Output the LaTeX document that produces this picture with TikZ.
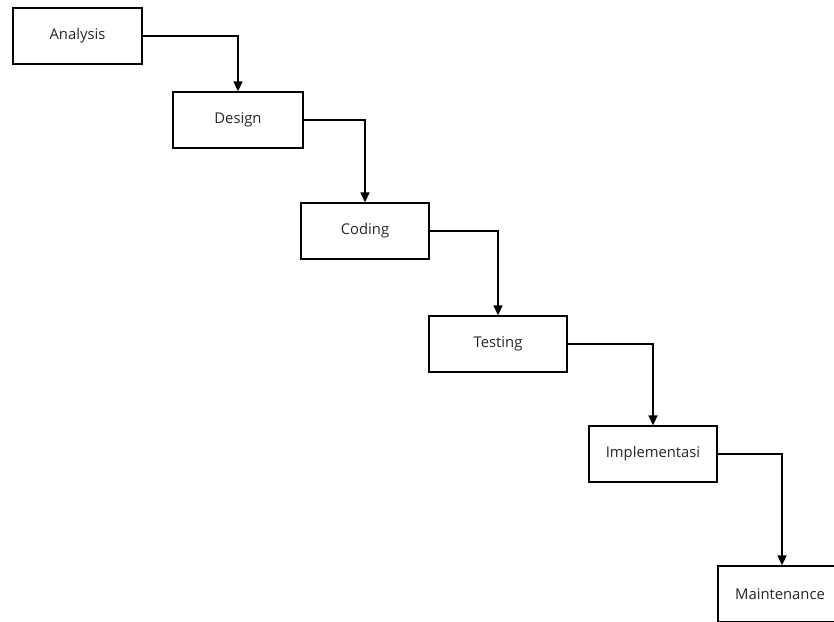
\documentclass[tikz,border=0pt]{standalone}
\usepackage{fontspec}
\setmainfont{Open Sans}
\usetikzlibrary{arrows.meta}
\begin{document}
\begin{tikzpicture}[x=1pt,y=-1pt,
  stage/.style={draw=black, line width=1.3pt, rectangle, minimum height=56pt, font=\fontsize{14.8}{16}\selectfont, text=black!85, inner sep=0pt},
  flow/.style={draw=black, line width=1.5pt, -{Triangle[length=10pt,width=9pt]}}]
\useasboundingbox (0,0) rectangle (834,621);
\node[stage, minimum width=129pt] (analysis) at (77.5,36) {Analysis};
\node[stage, minimum width=130pt] (design) at (238,120) {Design};
\node[stage, minimum width=128pt] (coding) at (365,231) {Coding};
\node[stage, minimum width=138pt] (testing) at (498,344) {Testing};
\node[stage, minimum width=128pt] (impl) at (653,454) {Implementasi};
\node[stage, minimum width=128pt] (maint) at (782,594) {\hspace*{-4pt}Maintenance};
\draw[flow] (analysis.east) -| (design.north);
\draw[flow] (design.east) -| (coding.north);
\draw[flow] (coding.east) -| (testing.north);
\draw[flow] (testing.east) -| (impl.north);
\draw[flow] (impl.east) -| (maint.north);
\end{tikzpicture}
\end{document}
